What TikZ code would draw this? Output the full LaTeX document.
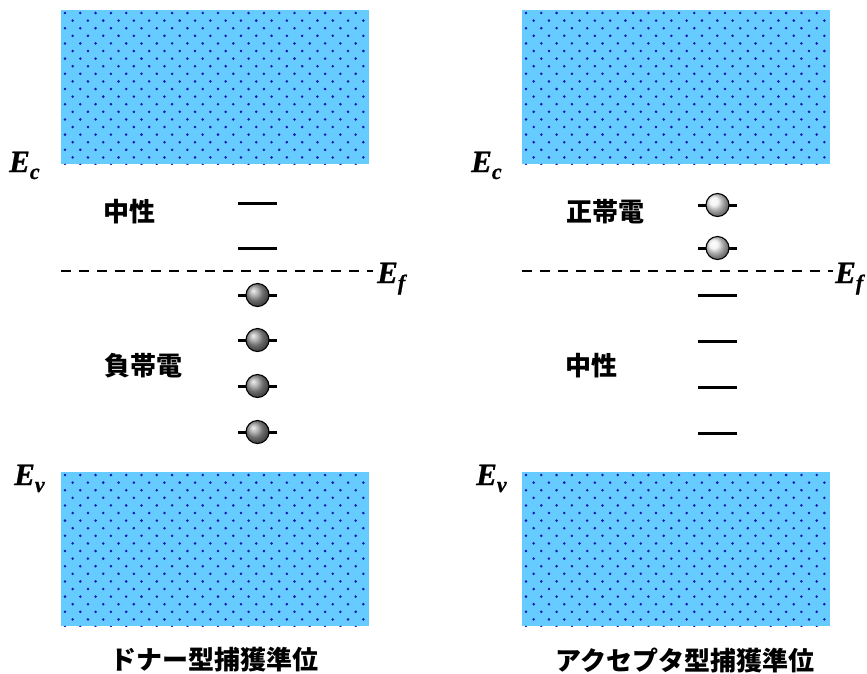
\documentclass[tikz,border=0pt]{standalone}
\usepackage{fontspec}
\setmainfont{Liberation Serif}
\newfontfamily\efont[ItalicFont={Liberation Serif Bold Italic}, ItalicFeatures={FakeBold=0.8}]{Liberation Serif}
\newfontfamily\cjk{Noto Sans CJK JP}
\definecolor{bandblue}{RGB}{102,204,255}
\definecolor{dotblue}{RGB}{20,20,180}
\tikzset{
  lvl/.style={line width=3pt},
  elec/.style={circle, draw=black, line width=1.1pt, minimum size=23pt, inner sep=0pt, shading=ball, ball color=gray!80},
  hole/.style={elec, ball color=gray!12},
  jp/.style={font=\cjk\bfseries\fontsize{26}{26}\selectfont, inner sep=0pt},
  jpt/.style={font=\cjk\bfseries\fontsize{26}{26}\selectfont, inner sep=0pt},
  elab/.style={font=\efont\itshape\fontsize{31}{31}\selectfont, inner sep=0pt, anchor=base west},
  fermi/.style={line width=2.5pt, dash pattern=on 10pt off 8pt}
}
\newcommand\sub[1]{\raisebox{-7pt}{\fontsize{22}{22}\selectfont #1}}
\begin{document}
\begin{tikzpicture}[x=1pt,y=-1pt]
\useasboundingbox (0,0) rectangle (867,673);
% bands
\foreach \bx/\by in {61/10, 61/472, 522/10, 522/472}{
  \fill[bandblue] (\bx,\by) rectangle ++(308,154);
  \begin{scope}
    \clip (\bx,\by) rectangle ++(308,154);
    \foreach \j in {0,...,20}{
      \foreach \i in {0,...,20}{
        \fill[dotblue] ({\bx+4+15.3*\i+mod(\j,2)*7.65},{\by+3+7.6*\j}) circle (1.4);
      }
    }
  \end{scope}
}
% energy labels
\node[elab] (ecL) at (9,172) {E\sub{c}};
\node[elab] (evL) at (14,485) {E\sub{v}};
\node[elab] (efL) at (377,283) {E\sub{f}};
\node[elab] (ecR) at (471,172) {E\sub{c}};
\node[elab] (evR) at (476,485) {E\sub{v}};
\node[elab] (efR) at (835,283) {E\sub{f}};
% fermi lines
\coordinate (fL0) at (61,271); \coordinate (fL1) at (373,271);
\coordinate (fR0) at (522,271); \coordinate (fR1) at (833,271);
\draw[fermi] (fL0) -- (fL1);
\draw[fermi] (fR0) -- (fR1);
% left levels (donor)
\foreach \n/\yy in {1/203, 2/248}{
  \coordinate (dl\n a) at (238,\yy); \coordinate (dl\n b) at (277,\yy);
  \draw[lvl] (dl\n a) -- (dl\n b);
}
\foreach \n/\yy in {3/295, 4/340, 5/386, 6/432}{
  \coordinate (dl\n a) at (238,\yy); \coordinate (dl\n b) at (277,\yy);
  \draw[lvl] (dl\n a) -- (dl\n b);
  \node[elec] (de\n) at (257.5,\yy) {};
}
% right levels (acceptor)
\foreach \n/\yy in {1/205, 2/248}{
  \coordinate (al\n a) at (698,\yy); \coordinate (al\n b) at (737,\yy);
  \draw[lvl] (al\n a) -- (al\n b);
  \node[hole] (ah\n) at (717.5,\yy) {};
}
\foreach \n/\yy in {3/295, 4/341, 5/387, 6/433}{
  \coordinate (al\n a) at (698,\yy); \coordinate (al\n b) at (737,\yy);
  \draw[lvl] (al\n a) -- (al\n b);
}
% japanese labels
\node[jp] (neuL) at (129,212) {中性};
\node[jp] (negL) at (143,366) {負帯電};
\node[jp] (posR) at (605,212) {正帯電};
\node[jp] (neuR) at (591,366) {中性};
\node[jpt] (titL) at (214,660) {ドナー型捕獲準位};
\node[jpt] (titR) at (685,660) {アクセプタ型捕獲準位};
\end{tikzpicture}
\end{document}
